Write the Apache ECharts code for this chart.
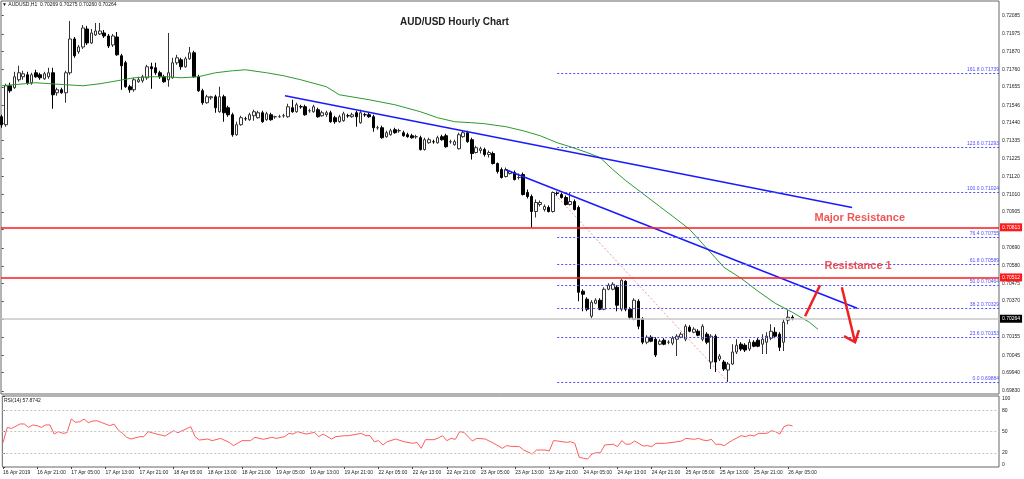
<!DOCTYPE html>
<html><head><meta charset="utf-8">
<script src="https://cdn.jsdelivr.net/npm/echarts@6/dist/echarts.min.js"></script>
<style>html,body{margin:0;padding:0;background:#fff}#c{width:1024px;height:479px}</style>
</head><body><div id="c"></div>
<script>
// ---------------- data ----------------
const timeLabels = ['16 Apr 2019','16 Apr 21:00','17 Apr 05:00','17 Apr 13:00','17 Apr 21:00','18 Apr 05:00','18 Apr 13:00','18 Apr 21:00','19 Apr 05:00','19 Apr 13:00','19 Apr 21:00','22 Apr 05:00','22 Apr 13:00','22 Apr 21:00','23 Apr 05:00','23 Apr 13:00','23 Apr 21:00','24 Apr 05:00','24 Apr 13:00','24 Apr 21:00','25 Apr 05:00','25 Apr 13:00','25 Apr 21:00','26 Apr 05:00'];
const timeLabelBars = [0,8,16,24,32,40,48,56,64,72,80,88,96,104,112,120,128,136,144,152,160,168,176,184];
const priceTicks = [0.72085,0.71975,0.71870,0.71760,0.71655,0.71546,0.71440,0.71335,0.71225,0.71120,0.71010,0.70905,0.70800,0.70690,0.70580,0.70475,0.70370,0.70260,0.70155,0.70045,0.69940,0.69830];
const rsiTicks = [0,20,50,80,100];
const rsiLevels = [80,50,20];

// hourly candles: [open, close, low, high]
const ohlc = [
[0.71477,0.71429,0.71411,0.71489],[0.71429,0.71663,0.71417,0.71675],[0.71663,0.71633,0.71621,0.71681],[0.71651,0.71717,0.71645,0.71747],
[0.71699,0.71741,0.71687,0.71783],[0.71717,0.71735,0.71699,0.71753],[0.71729,0.71681,0.71669,0.71747],[0.71681,0.71729,0.71669,0.71741],
[0.71741,0.71717,0.71711,0.71759],[0.71729,0.71711,0.71699,0.71741],[0.71705,0.71735,0.71699,0.71747],[0.71717,0.71741,0.71705,0.71771],
[0.71741,0.71609,0.71525,0.71771],[0.71621,0.71639,0.71603,0.71651],[0.71639,0.71621,0.71615,0.71651],[0.71621,0.71741,0.71561,0.71753],
[0.71741,0.71944,0.71729,0.72052],[0.71944,0.71843,0.71831,0.71956],[0.71867,0.71896,0.71855,0.71908],[0.71896,0.72010,0.71884,0.72028],
[0.72004,0.71920,0.71908,0.72022],[0.71920,0.71980,0.71914,0.72004],[0.71968,0.71992,0.71962,0.72040],[0.71974,0.71992,0.71968,0.72040],
[0.71980,0.71962,0.71950,0.71998],[0.71962,0.71902,0.71890,0.71974],[0.71908,0.71962,0.71896,0.71974],[0.71956,0.71849,0.71843,0.71986],
[0.71843,0.71783,0.71639,0.71855],[0.71801,0.71657,0.71651,0.71813],[0.71657,0.71639,0.71621,0.71669],[0.71639,0.71699,0.71627,0.71711],
[0.71687,0.71699,0.71681,0.71717],[0.71693,0.71717,0.71681,0.71729],[0.71711,0.71777,0.71699,0.71789],[0.71777,0.71765,0.71645,0.71801],
[0.71771,0.71741,0.71729,0.71801],[0.71741,0.71717,0.71705,0.71753],[0.71717,0.71687,0.71681,0.71729],[0.71699,0.71741,0.71657,0.71980],
[0.71711,0.71801,0.71705,0.71831],[0.71801,0.71831,0.71789,0.71849],[0.71819,0.71777,0.71759,0.71831],[0.71777,0.71825,0.71771,0.71837],
[0.71825,0.71861,0.71819,0.71896],[0.71861,0.71717,0.71711,0.71873],[0.71717,0.71633,0.71627,0.71729],[0.71633,0.71561,0.71549,0.71645],
[0.71561,0.71597,0.71555,0.71609],[0.71591,0.71597,0.71579,0.71603],[0.71597,0.71531,0.71501,0.71609],[0.71507,0.71597,0.71501,0.71657],
[0.71597,0.71501,0.71447,0.71609],[0.71531,0.71489,0.71477,0.71543],[0.71489,0.71369,0.71357,0.71501],[0.71369,0.71429,0.71363,0.71447],
[0.71429,0.71471,0.71423,0.71483],[0.71465,0.71465,0.71453,0.71477],[0.71459,0.71489,0.71453,0.71501],[0.71483,0.71507,0.71453,0.71519],
[0.71471,0.71501,0.71465,0.71513],[0.71501,0.71447,0.71441,0.71513],[0.71459,0.71495,0.71453,0.71507],[0.71489,0.71459,0.71453,0.71501],
[0.71477,0.71477,0.71465,0.71483],[0.71477,0.71477,0.71471,0.71489],[0.71483,0.71483,0.71471,0.71495],[0.71477,0.71537,0.71471,0.71555],
[0.71531,0.71507,0.71501,0.71579],[0.71507,0.71549,0.71501,0.71561],[0.71537,0.71537,0.71525,0.71549],[0.71537,0.71489,0.71483,0.71549],
[0.71513,0.71513,0.71501,0.71525],[0.71507,0.71537,0.71501,0.71549],[0.71519,0.71477,0.71471,0.71531],[0.71483,0.71501,0.71477,0.71513],
[0.71489,0.71501,0.71477,0.71513],[0.71501,0.71447,0.71441,0.71513],[0.71471,0.71447,0.71435,0.71483],[0.71447,0.71477,0.71441,0.71489],
[0.71453,0.71495,0.71447,0.71507],[0.71483,0.71483,0.71471,0.71495],[0.71477,0.71489,0.71471,0.71501],[0.71501,0.71477,0.71417,0.71513],
[0.71441,0.71501,0.71435,0.71519],[0.71489,0.71489,0.71477,0.71501],[0.71489,0.71477,0.71471,0.71501],[0.71477,0.71411,0.71387,0.71489],
[0.71411,0.71411,0.71399,0.71423],[0.71411,0.71351,0.71345,0.71423],[0.71357,0.71381,0.71351,0.71393],[0.71369,0.71393,0.71363,0.71405],
[0.71399,0.71381,0.71375,0.71411],[0.71393,0.71393,0.71381,0.71405],[0.71381,0.71363,0.71357,0.71393],[0.71369,0.71357,0.71351,0.71381],
[0.71363,0.71351,0.71345,0.71375],[0.71357,0.71357,0.71345,0.71369],[0.71351,0.71280,0.71274,0.71363],[0.71280,0.71339,0.71274,0.71351],
[0.71321,0.71339,0.71315,0.71351],[0.71327,0.71327,0.71315,0.71339],[0.71321,0.71351,0.71315,0.71363],[0.71357,0.71339,0.71333,0.71369],
[0.71363,0.71297,0.71291,0.71375],[0.71327,0.71327,0.71315,0.71339],[0.71309,0.71327,0.71303,0.71339],[0.71285,0.71369,0.71280,0.71381],
[0.71357,0.71381,0.71351,0.71393],[0.71381,0.71327,0.71321,0.71393],[0.71339,0.71256,0.71220,0.71351],[0.71262,0.71291,0.71256,0.71303],
[0.71274,0.71285,0.71256,0.71297],[0.71280,0.71250,0.71238,0.71291],[0.71250,0.71262,0.71232,0.71274],[0.71256,0.71196,0.71190,0.71268],
[0.71196,0.71148,0.71136,0.71202],[0.71160,0.71112,0.71106,0.71172],[0.71118,0.71160,0.71112,0.71172],[0.71136,0.71148,0.71130,0.71154],
[0.71142,0.71100,0.71094,0.71154],[0.71112,0.71112,0.71100,0.71136],[0.71130,0.71010,0.71004,0.71142],[0.71022,0.70998,0.70986,0.71040],
[0.70998,0.70908,0.70812,0.71010],[0.70908,0.70962,0.70872,0.70980],[0.70950,0.70962,0.70938,0.70974],[0.70920,0.70938,0.70908,0.70950],
[0.70932,0.70908,0.70902,0.70944],[0.70908,0.71022,0.70902,0.71028],[0.71016,0.71016,0.71004,0.71028],[0.71010,0.70992,0.70986,0.71022],
[0.70992,0.70950,0.70944,0.71004],[0.70950,0.70968,0.70944,0.71022],[0.70968,0.70920,0.70914,0.70980],[0.70932,0.70423,0.70369,0.70944],
[0.70429,0.70411,0.70309,0.70441],[0.70381,0.70321,0.70309,0.70393],[0.70279,0.70363,0.70267,0.70375],[0.70357,0.70375,0.70351,0.70387],
[0.70375,0.70321,0.70315,0.70387],[0.70321,0.70441,0.70315,0.70453],[0.70441,0.70465,0.70435,0.70477],[0.70441,0.70471,0.70435,0.70483],
[0.70453,0.70345,0.70309,0.70465],[0.70321,0.70495,0.70309,0.70501],[0.70489,0.70321,0.70309,0.70495],[0.70321,0.70273,0.70261,0.70333],
[0.70261,0.70375,0.70255,0.70387],[0.70369,0.70219,0.70201,0.70381],[0.70261,0.70123,0.70111,0.70273],[0.70123,0.70153,0.70111,0.70165],
[0.70153,0.70129,0.70123,0.70165],[0.70141,0.70046,0.70034,0.70153],[0.70111,0.70129,0.70105,0.70141],[0.70135,0.70111,0.70105,0.70147],
[0.70123,0.70123,0.70111,0.70135],[0.70117,0.70147,0.70105,0.70159],[0.70141,0.70159,0.70040,0.70171],[0.70153,0.70171,0.70147,0.70183],
[0.70141,0.70219,0.70129,0.70231],[0.70213,0.70189,0.70183,0.70225],[0.70183,0.70201,0.70177,0.70213],[0.70189,0.70165,0.70159,0.70201],
[0.70141,0.70219,0.70129,0.70231],[0.70171,0.70123,0.70111,0.70183],[0.70004,0.70159,0.69962,0.70171],[0.70159,0.70004,0.69944,0.70171],
[0.70022,0.70040,0.70010,0.70052],[0.70004,0.69962,0.69950,0.70016],[0.69956,0.69992,0.69884,0.70004],[0.69992,0.70064,0.69986,0.70111],
[0.70064,0.70105,0.70052,0.70141],[0.70111,0.70082,0.70070,0.70123],[0.70105,0.70076,0.70064,0.70117],[0.70082,0.70123,0.70070,0.70141],
[0.70123,0.70099,0.70093,0.70135],[0.70135,0.70099,0.70093,0.70147],[0.70111,0.70141,0.70052,0.70171],[0.70123,0.70159,0.70052,0.70183],
[0.70147,0.70189,0.70135,0.70231],[0.70183,0.70159,0.70147,0.70213],[0.70171,0.70093,0.70070,0.70183],[0.70123,0.70243,0.70070,0.70261],
[0.70255,0.70273,0.70231,0.70315],[0.70273,0.70264,0.70255,0.70285]
];

// moving average, read at [bar, price]
const maPoints = [[0,0.71663],[8,0.71681],[15,0.71669],[19,0.71663],[23,0.71675],[27,0.71693],[31,0.71711],[35,0.71717],[39,0.71717],[42,0.71711],[46,0.71717],[50,0.71741],[54,0.71753],[57,0.71759],[62,0.71741],[66,0.71723],[70,0.71699],[76,0.71657],[79,0.71609],[86,0.71579],[92,0.71549],[98,0.71507],[102,0.71471],[106,0.71447],[110,0.71441],[113,0.71435],[118,0.71417],[122,0.71393],[126,0.71363],[130,0.71321],[133,0.71297],[137,0.71262],[140,0.71232],[143,0.71160],[146,0.71094],[150,0.71016],[154,0.70938],[158,0.70860],[161,0.70800],[165,0.70687],[169,0.70573],[173,0.70507],[177,0.70429],[181,0.70357],[185,0.70303],[189,0.70243],[191,0.70201]];

// RSI(14), read at [bar, value]
const rsiPoints = [[0,34.2],[1,55.8],[2,54.3],[4,60.6],[5,60.6],[6,55.8],[7,59.2],[8,58.2],[9,55.8],[10,59.2],[11,59.2],[12,46.4],[13,49.8],[14,47.4],[15,48.3],[16,67.6],[17,62.9],[18,63.8],[19,67.6],[20,62.4],[21,64.7],[22,65.2],[23,62.9],[25,58.2],[26,60.5],[27,52.1],[28,47.4],[29,41.8],[30,39.4],[32,42.7],[33,42.7],[34,49.8],[36,46.4],[38,43.7],[40,51.1],[41,48.3],[44,56.8],[45,42.7],[46,38],[48,39.4],[49,37.1],[51,40.3],[53,34.7],[54,30.1],[56,37.1],[58,37.1],[59,41.8],[61,39],[63,41.8],[64,40.3],[66,42.7],[67,47.4],[68,46.4],[69,49.8],[71,46.4],[73,48.8],[74,42.7],[75,46.4],[77,39.4],[78,42.7],[80,44.1],[81,44.1],[84,47.4],[85,44.1],[86,44.1],[87,35.6],[88,37.1],[89,31],[90,35.6],[92,39.4],[94,35.6],[96,33.3],[97,34.7],[98,26.3],[99,38.5],[101,38.5],[102,40.9],[103,44.1],[104,37.1],[105,40.3],[106,39],[107,49.8],[108,48.8],[110,36.6],[111,40.3],[113,39.4],[115,33.3],[117,26.3],[118,30.1],[119,29.1],[121,28.6],[122,23.9],[124,18.3],[125,23.9],[127,23.9],[128,22.6],[129,37.1],[130,36.6],[132,34.7],[133,35.6],[134,33.3],[135,13.7],[136,12.2],[137,11.3],[138,18.3],[139,20.1],[140,20.1],[141,31],[143,32],[144,28.6],[145,37.1],[146,32],[147,32.4],[148,36.6],[150,29.6],[151,30.1],[152,28.6],[153,33.3],[155,33.3],[157,34.7],[159,36.6],[160,40.3],[162,39],[163,40.3],[164,38],[165,37.1],[166,39],[167,32],[168,32],[169,30.1],[171,38],[173,44.1],[174,42.7],[175,45],[176,43.7],[177,47.4],[179,47.4],[180,51.1],[181,49.8],[182,46.4],[183,56.8],[184,59.2],[185,57.87]];

const fibRatios = ['161.8','123.6','100.0','76.4','61.8','50.0','38.2','23.6','0.0'];
const fibValues = [0.71739,0.71293,0.71024,0.70755,0.70589,0.70464,0.70329,0.70153,0.69884];
const fibStartBar = 130;
const fibBase = [[129,0.71024],[170,0.69884]];
const trendUpper = [[66.3,0.71603],[199.0,0.70932]];
const trendLower = [[117.8,0.71160],[200.2,0.70327]];
const majorResistance = 0.70813;
const resistance1 = 0.70512;
const lastPrice = 0.70264;
const arrowUp = [[188.0,0.70279],[191.5,0.70465]];
const arrowDownShaft = [[196.6,0.70453],[199.7,0.70123]];
const arrowDownHead = [[197.1,0.70159],[199.7,0.70123],[200.6,0.70195]];
const notes = [{text:'Major Resistance', at:[200.8,0.70872]},{text:'Resistance 1', at:[200.4,0.70578]}];
const headerText = '\u25BC AUDUSD,H1  0.70269 0.70275 0.70260 0.70264';
const rsiText = 'RSI(14) 57.8742';

// ---------------- chart ----------------
const F = 'Liberation Sans';
const X_MIN = -0.16, X_MAX = 233.38;
const chart = echarts.init(document.getElementById('c'), null, {renderer:'canvas'});

function hLine(v, color, width, bg){
  return [
    {coord:[X_MIN, v], lineStyle:{color, width, type:'solid'},
     label:{show:true, position:'end', distance:1, formatter: v.toFixed(5), fontSize:5, fontFamily:F,
       color:'#fff', backgroundColor:bg, padding:[2,2,1,2]}},
    {coord:[X_MAX, v]}
  ];
}
const fibLines = fibValues.map((v,i)=>[
  {coord:[fibStartBar, v], lineStyle:{color:'#4d4dff', width:1, type:[2,2]},
   label:{show:true, position:'insideEndTop', distance:[0,1], formatter: fibRatios[i]+' '+v.toFixed(5), fontSize:5, fontFamily:F, color:'#4d4dff'}},
  {coord:[X_MAX, v]}
]);

const option = {
  animation:false,
  backgroundColor:'#ffffff',
  title:[
    {text:'AUD/USD Hourly Chart', left:395, top:12, textStyle:{fontSize:10, fontWeight:'bold', color:'#222', fontFamily:F}},
    {text:headerText, left:2, top:2, padding:0, textStyle:{fontSize:5, fontWeight:'normal', color:'#111', fontFamily:F}},
    {text:rsiText, left:4, top:398, padding:0, textStyle:{fontSize:5, fontWeight:'normal', color:'#111', fontFamily:F}}
  ],
  grid:[
    {left:1, top:1, width:998, height:393, show:true, borderColor:'#666', borderWidth:1},
    {left:1, top:396, width:998, height:71, show:true, borderColor:'#666', borderWidth:1}
  ],
  xAxis:[
    {type:'value', gridIndex:0, min:X_MIN, max:X_MAX, show:false, splitLine:{show:false}},
    {type:'value', gridIndex:1, min:X_MIN, max:X_MAX, splitLine:{show:false},
     axisLine:{show:false},
     axisTick:{show:true, customValues:timeLabelBars, length:2, lineStyle:{color:'#444'}},
     axisLabel:{show:true, customValues:timeLabelBars, margin:3, fontSize:5, fontFamily:F, color:'#222', align:'left',
       formatter:(v)=>{const k=timeLabelBars.indexOf(Math.round(v)); return k>=0?timeLabels[k]:'';}}}
  ],
  yAxis:[
    {type:'value', gridIndex:0, position:'right', min:0.69812, max:0.72172, splitLine:{show:false},
     axisLine:{show:false},
     axisTick:{show:true, customValues:priceTicks, length:2, lineStyle:{color:'#444'}},
     axisLabel:{show:true, customValues:priceTicks, margin:3, fontSize:5, fontFamily:F, color:'#222',
       formatter:(v)=>v.toFixed(5)}},
    {type:'value', gridIndex:1, position:'right', min:0, max:100, splitLine:{show:false},
     axisLine:{show:false},
     axisTick:{show:true, customValues:rsiTicks, length:2, lineStyle:{color:'#444'}},
     axisLabel:{show:true, customValues:[4,20,50,80,96], margin:3, fontSize:5, fontFamily:F, color:'#222',
       formatter:(v)=> v>90?'100':(v<10?'0':String(v))}}
  ],
  series:[
    {type:'line', name:'fibBase', xAxisIndex:0, yAxisIndex:0, data:fibBase, showSymbol:false, silent:true,
     lineStyle:{color:'#f29a9a', width:1, type:[2,2]}, z:1,
     markLine:{symbol:'none', silent:true, animation:false,
       data:[
         hLine(lastPrice, '#c8c8c8', 1.5, '#000000'),
         hLine(majorResistance, '#ff1a1a', 1.5, '#ff1a1a'),
         hLine(resistance1, '#ff1a1a', 1.5, '#ff1a1a'),
         ...fibLines
       ]}
    },
    {type:'candlestick', name:'AUDUSD', xAxisIndex:0, yAxisIndex:0, z:3,
     data: ohlc.map((d,i)=>[i, d[0], d[1], d[2], d[3]]),
     encode:{x:0, y:[1,2,3,4]},
     barWidth:3,
     itemStyle:{color:'#ffffff', color0:'#000000', borderColor:'#333333', borderColor0:'#000000', borderWidth:1}
    },
    {type:'line', name:'MA', xAxisIndex:0, yAxisIndex:0, data:maPoints, showSymbol:false, silent:true,
     lineStyle:{color:'#2e9a2e', width:1}, z:4},
    {type:'line', name:'trendUpper', xAxisIndex:0, yAxisIndex:0, data:trendUpper, showSymbol:false, silent:true,
     lineStyle:{color:'#1a1aff', width:1.5}, z:4},
    {type:'line', name:'trendLower', xAxisIndex:0, yAxisIndex:0, data:trendLower, showSymbol:false, silent:true,
     lineStyle:{color:'#1a1aff', width:1.5}, z:4},
    {type:'line', name:'arrowUp', xAxisIndex:0, yAxisIndex:0, data:arrowUp, showSymbol:false, silent:true,
     lineStyle:{color:'#f02020', width:2.5}, z:5},
    {type:'line', name:'arrowDown', xAxisIndex:0, yAxisIndex:0, data:arrowDownShaft, showSymbol:false, silent:true,
     lineStyle:{color:'#f02020', width:2.5}, z:5},
    {type:'line', name:'arrowHead', xAxisIndex:0, yAxisIndex:0, data:arrowDownHead, showSymbol:false, silent:true,
     lineStyle:{color:'#f02020', width:2.5, join:'miter'}, z:5},
    {type:'scatter', name:'notes', xAxisIndex:0, yAxisIndex:0, symbolSize:1, silent:true,
     itemStyle:{color:'rgba(0,0,0,0)'},
     data: notes.map(n=>({value:n.at, label:{show:true, position:'inside', formatter:n.text,
        fontSize:11, fontWeight:'bold', color:'#ee2a2a', fontFamily:F}})), z:6},
    {type:'line', name:'RSI', xAxisIndex:1, yAxisIndex:1, data:rsiPoints, showSymbol:false, silent:true,
     lineStyle:{color:'#ff5c5c', width:1},
     markLine:{symbol:'none', silent:true, label:{show:false},
       lineStyle:{color:'#c4c4c4', width:1, type:[2,2]},
       data: rsiLevels.map(v=>({yAxis:v}))}}
  ]
};
chart.setOption(option);
</script></body></html>
